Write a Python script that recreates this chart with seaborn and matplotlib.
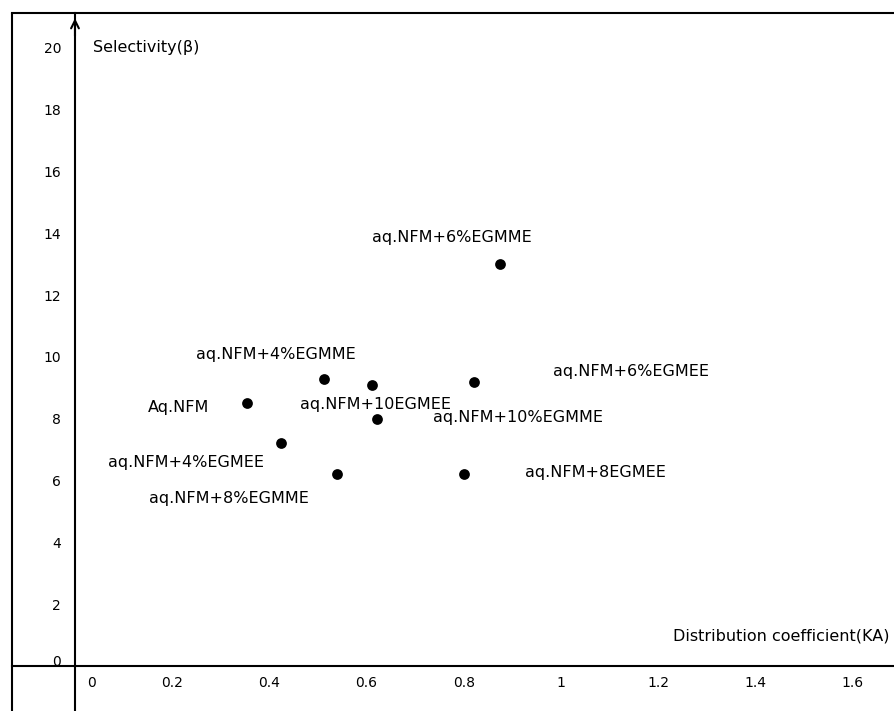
import matplotlib
matplotlib.use("Agg")
import matplotlib.pyplot as plt
import matplotlib.transforms as mtransforms
import numpy as np
import pandas as pd
import seaborn as sns

# Solvent systems and their measured values
solvents = [
    "aq.NFM+6%EGMME",
    "aq.NFM+4%EGMME",
    "aq.NFM+10EGMEE",
    "aq.NFM+6%EGMEE",
    "Aq.NFM",
    "aq.NFM+10%EGMME",
    "aq.NFM+4%EGMEE",
    "aq.NFM+8%EGMME",
    "aq.NFM+8EGMEE",
]
distribution_coef = [0.875, 0.513, 0.612, 0.822, 0.353, 0.621, 0.423, 0.540, 0.800]
selectivity = [13.0, 9.3, 9.1, 9.2, 8.5, 8.0, 7.2, 6.2, 6.2]

x_ticks = [0, 0.2, 0.4, 0.6, 0.8, 1, 1.2, 1.4, 1.6]
x_tick_labels = ["0", "0.2", "0.4", "0.6", "0.8", "1", "1.2", "1.4", "1.6"]
y_ticks = [0, 2, 4, 6, 8, 10, 12, 14, 16, 18, 20]
y_tick_labels = [str(v) for v in y_ticks]

# Label offsets (points) from each marker to the centre of its label
label_offsets = [(-35, 19.5), (-35, 17), (2, -14), (113, 7), (-49, -3),
                 (102, 1), (-68, -14), (-78, -17), (95, 1.5)]

sns.set_style("white")
plt.rcParams["font.family"] = ["DejaVu Sans"]
plt.rcParams["text.color"] = "black"
plt.rcParams["xtick.color"] = "black"
plt.rcParams["ytick.color"] = "black"
plt.rcParams["axes.edgecolor"] = "black"

df = pd.DataFrame({"solvent": solvents, "KA": distribution_coef, "beta": selectivity})

W, H = 894, 711
fig = plt.figure(figsize=(W / 100, H / 100), dpi=100)
ax = fig.add_axes([12 / W, 0, 1 - 12 / W, (H - 13) / H])

sns.scatterplot(data=df, x="KA", y="beta", ax=ax, color="black", s=60,
                edgecolor="black", linewidth=0, legend=False, zorder=3)

ax.set_xlim(-0.1296, 1.6852)
ax.set_ylim(-1.456, 21.13)

# Axes crossing at the origin, plus an outer frame on the top and left
for side in ("left", "bottom"):
    ax.spines[side].set_position(("data", 0))
    ax.spines[side].set_linewidth(1.5)
ax.spines["right"].set_visible(False)
ax.spines["top"].set_linewidth(1.5)
ax.plot([0, 0], [0, 1], transform=ax.transAxes, color="black", lw=1.5, clip_on=False)
ax.annotate("", xy=(0, 21.05), xytext=(0, 20.3),
            arrowprops=dict(arrowstyle="->", color="black", lw=1.5, mutation_scale=14))

ax.set_xticks(x_ticks)
ax.set_xticklabels(x_tick_labels)
ax.set_yticks(y_ticks)
ax.set_yticklabels(y_tick_labels)
ax.tick_params(axis="x", direction="out", length=3, width=1.2, pad=4, labelsize=10)
ax.tick_params(axis="y", direction="out", length=6, width=1.2, pad=4, labelsize=10)
ax.set_xlabel("")
ax.set_ylabel("")

# Nudge the origin labels away from the crossing axes
ax.get_xticklabels()[0].set_transform(
    ax.get_xticklabels()[0].get_transform()
    + mtransforms.ScaledTranslation(17 / 100, 0, fig.dpi_scale_trans))
ax.get_yticklabels()[0].set_transform(
    ax.get_yticklabels()[0].get_transform()
    + mtransforms.ScaledTranslation(0, 6 / 100, fig.dpi_scale_trans))

for name, x, y, off in zip(solvents, distribution_coef, selectivity, label_offsets):
    ax.annotate(name, xy=(x, y), xytext=off, textcoords="offset points",
                ha="center", va="center", fontsize=11.5, color="black")

ax.text(0.037, 20.0, "Selectivity(β)", ha="left", va="center", fontsize=11.5, color="black")
ax.text(1.675, 0.97, "Distribution coefficient(KA)", ha="right", va="center",
        fontsize=11.5, color="black")

fig.savefig("out.png", dpi=100)
